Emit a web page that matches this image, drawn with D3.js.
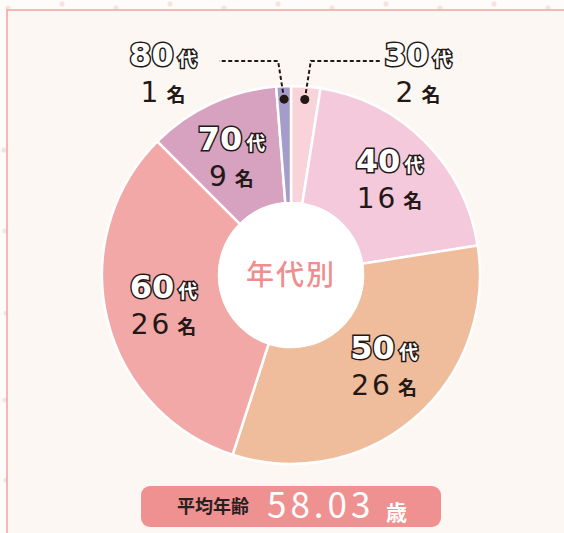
<!DOCTYPE html>
<html lang="ja">
<head>
<meta charset="UTF-8">
<title>年代別</title>
<script src="https://d3js.org/d3.v7.min.js"></script>
<style>
  html, body { margin: 0; padding: 0; background: #fefcfb; }
  svg text { font-family: "Noto Sans CJK JP", "Noto Sans", sans-serif; }
  .num { font-family: "DejaVu Sans", "Noto Sans", sans-serif; }
</style>
</head>
<body>
<div class="chart"></div>
<script>
// data
const ages = ["30", "40", "50", "60", "70", "80"];
const counts = [2, 16, 26, 26, 9, 1];
const colors = ["#f8d4da", "#f4c9dc", "#efbd9c", "#f2a8a7", "#d7a1c0", "#a69ccb"];
const avgLabel = "平均年齢";
const avgValue = "58.03";
const avgUnit = "歳";
const centerTitle = "年代別";

const w = 564, h = 533;
const cx = 291, cy = 275, outerR = 189, innerR = 72;

const svg = d3.select(".chart").append("svg").attr("width", w).attr("height", h);

// background dots + frame
const dotG = svg.append("g").attr("fill", "#f4e4dd");
d3.range(8, w, 54).forEach((x, i) => {
  dotG.append("circle").attr("cx", x).attr("cy", i % 2 ? 4 : 8).attr("r", 2.6);
});
[[5, 231], [6, 313], [4, 150], [5, 400], [6, 480]].forEach(p => {
  dotG.append("circle").attr("cx", p[0]).attr("cy", p[1]).attr("r", 2.6);
});
svg.append("rect").attr("x", 7).attr("y", 10).attr("width", w + 20).attr("height", h + 20)
  .attr("fill", "#fcf7f2").attr("stroke", "#f2a3a3").attr("stroke-width", 1.5);

// pie
const data = ages.map((a, i) => ({ age: a, count: counts[i], color: colors[i] }));
const pie = d3.pie().value(d => d.count).sort(null);
const arcs = pie(data);
const arc = d3.arc().innerRadius(innerR).outerRadius(outerR);
const g = svg.append("g").attr("transform", `translate(${cx},${cy})`);

g.selectAll("path.slice").data(arcs).enter().append("path")
  .attr("class", "slice")
  .attr("d", arc)
  .attr("fill", d => d.data.color)
  .attr("stroke", "#fff")
  .attr("stroke-width", 2.5);

g.append("circle").attr("r", innerR + 1).attr("fill", "#fff");

g.append("text")
  .attr("text-anchor", "middle")
  .attr("y", 10)
  .attr("fill", "#ef8e8e")
  .attr("font-size", 28)
  .attr("font-weight", 500)
  .attr("letter-spacing", 2)
  .text(centerTitle);

// labels
function addLabel(sel, x, y, age, count) {
  const t1 = sel.append("text").attr("x", x).attr("y", y - 13).attr("text-anchor", "middle");
  t1.append("tspan").text(age).attr("class", "num")
    .attr("font-size", 32).attr("font-weight", 700)
    .attr("fill", "#fff").attr("stroke", "#231815").attr("stroke-width", 3)
    .attr("paint-order", "stroke");
  t1.append("tspan").text("代").attr("dx", 4)
    .attr("font-size", 19).attr("font-weight", 700)
    .attr("fill", "#fff").attr("stroke", "#231815").attr("stroke-width", 3)
    .attr("paint-order", "stroke");
  const t2 = sel.append("text").attr("x", x).attr("y", y + 23).attr("text-anchor", "middle")
    .attr("fill", "#231815");
  t2.append("tspan").text(count).attr("class", "num").attr("font-size", 28).attr("letter-spacing", 3);
  t2.append("tspan").text("名").attr("dx", 5).attr("font-size", 19).attr("font-weight", 700);
}

const labelArc = d3.arc().innerRadius(128).outerRadius(128);
const dotArc = d3.arc().innerRadius(176).outerRadius(176);
const nudge = { "40": [8, 0], "50": [10, 0], "60": [-3, 6], "70": [-6, 4] };

arcs.forEach(d => {
  const a = d.data.age;
  if (nudge[a]) {
    const c = labelArc.centroid(d);
    addLabel(g, c[0] + nudge[a][0], c[1] + nudge[a][1], a, d.data.count);
  }
});

// outside labels with leader lines
const outside = { "30": { side: 1, lx: 418 }, "80": { side: -1, lx: 163 } };
arcs.forEach(d => {
  const o = outside[d.data.age];
  if (!o) return;
  const p = dotArc.centroid(d);
  const px = cx + p[0], py = cy + p[1];
  const ly = 61;
  const kx = px + o.side * 6;
  const ex = o.side > 0 ? 380 : 219;
  svg.append("path")
    .attr("d", `M${px},${py} L${kx},${ly} L${ex},${ly}`)
    .attr("fill", "none").attr("stroke", "#231815")
    .attr("stroke-width", 2).attr("stroke-dasharray", "4,2.5");
  svg.append("circle").attr("cx", px).attr("cy", py).attr("r", 4.5).attr("fill", "#231815");
  addLabel(svg, o.lx, 79, d.data.age, d.data.count);
});

// average pill
svg.append("rect").attr("x", 141).attr("y", 486).attr("width", 300).attr("height", 41)
  .attr("rx", 9).attr("fill", "#ef9191");
svg.append("text").attr("x", 177).attr("y", 513)
  .attr("font-size", 18).attr("font-weight", 700).attr("fill", "#2a1f1f")
  .text(avgLabel);
svg.append("text").attr("x", 267).attr("y", 518)
  .attr("font-size", 35).attr("font-weight", 400).attr("fill", "#fff")
  .attr("letter-spacing", 4)
  .text(avgValue);
svg.append("text").attr("x", 386).attr("y", 520)
  .attr("font-size", 21).attr("font-weight", 700).attr("fill", "#fff")
  .text(avgUnit);
</script>
</body>
</html>
